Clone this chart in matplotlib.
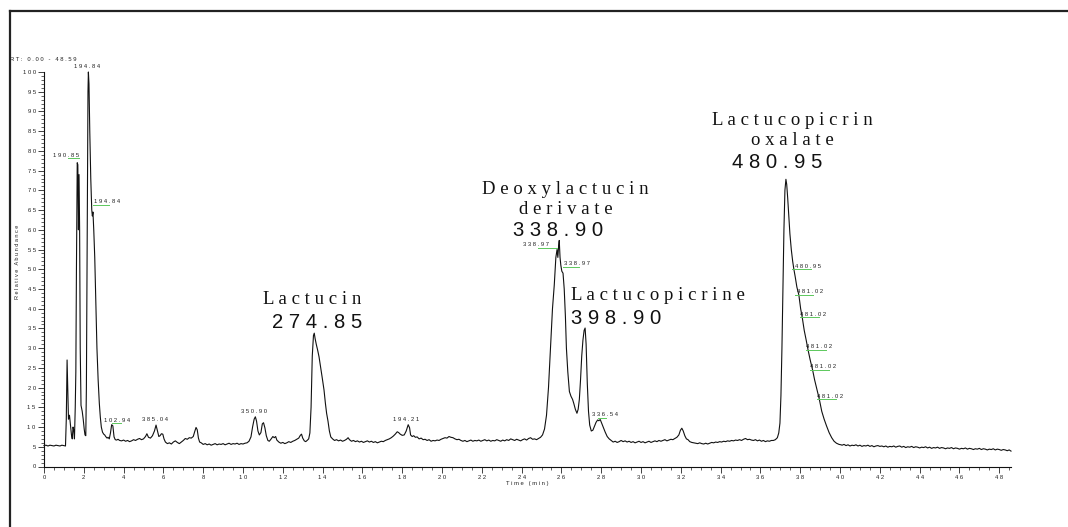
import matplotlib
matplotlib.use("Agg")
import matplotlib.pyplot as plt
from matplotlib.lines import Line2D
from matplotlib.ticker import MultipleLocator, FuncFormatter

# ---------------- data ----------------
time_min = [
    0.0, 0.1, 0.2, 0.3, 0.4, 0.5, 0.6, 0.7, 0.8, 0.9,
    1.0, 1.08, 1.12, 1.16, 1.2, 1.23, 1.28, 1.32, 1.38, 1.42,
    1.46, 1.5, 1.53, 1.57, 1.6, 1.63, 1.67, 1.70, 1.73, 1.76,
    1.79, 1.82, 1.86, 1.92, 1.97, 2.02, 2.06, 2.1, 2.13, 2.17,
    2.21, 2.23, 2.26, 2.3, 2.35, 2.4, 2.43, 2.46, 2.5, 2.55,
    2.6, 2.66, 2.72, 2.78, 2.83, 2.88, 2.94, 3.0, 3.05, 3.1,
    3.17, 3.22, 3.28, 3.34, 3.40, 3.46, 3.52, 3.58, 3.65, 3.72,
    3.8, 3.9, 4.0, 4.1, 4.2, 4.3, 4.4, 4.5, 4.6, 4.7,
    4.8, 4.9, 5.0, 5.1, 5.17, 5.25, 5.35, 5.45, 5.55, 5.63,
    5.7, 5.77, 5.83, 5.9, 5.97, 6.03, 6.1, 6.2, 6.3, 6.4,
    6.5, 6.6, 6.7, 6.8, 6.9, 7.0, 7.1, 7.2, 7.3, 7.4,
    7.5, 7.57, 7.64, 7.7, 7.76, 7.82, 7.9, 8.0, 8.1, 8.2,
    8.3, 8.4, 8.5, 8.6, 8.7, 8.8, 8.9, 9.0, 9.1, 9.2,
    9.3, 9.4, 9.5, 9.6, 9.7, 9.8, 9.9, 10.0, 10.1, 10.2,
    10.3, 10.4, 10.48, 10.56, 10.62, 10.68, 10.75, 10.82, 10.9, 10.97,
    11.03, 11.1, 11.17, 11.25, 11.32, 11.4, 11.5, 11.57, 11.64, 11.7,
    11.8, 11.9, 12.0, 12.1, 12.2, 12.3, 12.4, 12.5, 12.6, 12.7,
    12.8, 12.88, 12.94, 13.0, 13.08, 13.15, 13.22, 13.3, 13.36, 13.42,
    13.48, 13.54, 13.58, 13.62, 13.68, 13.75, 13.82, 13.9, 13.98, 14.07,
    14.14, 14.2, 14.27, 14.34, 14.41, 14.5, 14.6, 14.7, 14.8, 14.9,
    15.0, 15.1, 15.2, 15.28, 15.35, 15.45, 15.55, 15.65, 15.75, 15.85,
    15.95, 16.05, 16.15, 16.25, 16.35, 16.45, 16.55, 16.65, 16.75, 16.85,
    16.95, 17.05, 17.15, 17.25, 17.35, 17.45, 17.55, 17.65, 17.75, 17.82,
    17.9, 18.0, 18.1, 18.2, 18.3, 18.37, 18.42, 18.5, 18.58, 18.66,
    18.75, 18.85, 18.95, 19.05, 19.15, 19.25, 19.35, 19.45, 19.55, 19.65,
    19.75, 19.85, 19.95, 20.05, 20.15, 20.25, 20.35, 20.45, 20.55, 20.65,
    20.75, 20.85, 20.95, 21.05, 21.15, 21.25, 21.35, 21.45, 21.55, 21.65,
    21.75, 21.85, 21.95, 22.05, 22.15, 22.25, 22.35, 22.45, 22.55, 22.65,
    22.75, 22.85, 22.95, 23.05, 23.15, 23.25, 23.35, 23.45, 23.55, 23.65,
    23.75, 23.85, 23.95, 24.05, 24.15, 24.25, 24.35, 24.45, 24.55, 24.65,
    24.75, 24.85, 24.95, 25.05, 25.15, 25.25, 25.35, 25.45, 25.55, 25.64,
    25.72, 25.78, 25.82, 25.86, 25.89, 25.93, 25.97, 26.02, 26.08, 26.14,
    26.2, 26.25, 26.32, 26.4, 26.48, 26.56, 26.62, 26.7, 26.78, 26.84,
    26.9, 26.96, 27.02, 27.08, 27.14, 27.19, 27.24, 27.3, 27.36, 27.42,
    27.5, 27.58, 27.66, 27.74, 27.82, 27.88, 27.95, 28.02, 28.1, 28.2,
    28.3, 28.4, 28.5, 28.6, 28.7, 28.8, 28.9, 29.0, 29.1, 29.2,
    29.3, 29.4, 29.5, 29.6, 29.7, 29.8, 29.9, 30.0, 30.1, 30.2,
    30.3, 30.4, 30.5, 30.6, 30.7, 30.8, 30.9, 31.0, 31.1, 31.2,
    31.3, 31.4, 31.5, 31.6, 31.7, 31.8, 31.9, 31.98, 32.05, 32.12,
    32.2, 32.28, 32.36, 32.45, 32.55, 32.65, 32.75, 32.85, 32.95, 33.05,
    33.15, 33.25, 33.35, 33.45, 33.55, 33.65, 33.75, 33.85, 33.95, 34.05,
    34.15, 34.25, 34.35, 34.45, 34.55, 34.65, 34.75, 34.85, 34.95, 35.05,
    35.15, 35.25, 35.35, 35.45, 35.55, 35.65, 35.75, 35.85, 35.95, 36.05,
    36.15, 36.25, 36.35, 36.45, 36.55, 36.65, 36.75, 36.85, 36.92, 36.98,
    37.03, 37.08, 37.13, 37.18, 37.23, 37.28, 37.32, 37.37, 37.42, 37.48,
    37.55, 37.62, 37.68, 37.75, 37.83, 37.93, 38.02, 38.1, 38.2, 38.3,
    38.39, 38.5, 38.62, 38.72, 38.84, 38.96, 39.08, 39.2, 39.32, 39.45,
    39.58, 39.7, 39.82, 39.95, 40.05, 40.1, 40.2, 40.3, 40.4, 40.5,
    40.6, 40.7, 40.8, 40.9, 41.0, 41.1, 41.2, 41.3, 41.4, 41.5,
    41.6, 41.7, 41.8, 41.9, 42.0, 42.1, 42.2, 42.3, 42.4, 42.5,
    42.6, 42.7, 42.8, 42.9, 43.0, 43.1, 43.2, 43.3, 43.4, 43.5,
    43.6, 43.7, 43.8, 43.9, 44.0, 44.1, 44.2, 44.3, 44.4, 44.5,
    44.6, 44.7, 44.8, 44.9, 45.0, 45.1, 45.2, 45.3, 45.4, 45.5,
    45.6, 45.7, 45.8, 45.9, 46.0, 46.1, 46.2, 46.3, 46.4, 46.5,
    46.6, 46.7, 46.8, 46.9, 47.0, 47.1, 47.2, 47.3, 47.4, 47.5,
    47.6, 47.7, 47.8, 47.9, 48.0, 48.1, 48.2, 48.3, 48.4, 48.5,
    48.59,
]

rel_abundance = [
    5.3, 5.4, 5.2, 5.4, 5.3, 5.2, 5.4, 5.3, 5.2, 5.4,
    5.3, 5.2, 12, 27, 18, 12, 13, 11, 8, 7,
    10, 9, 7, 15, 24, 50, 77, 76.5, 60, 74,
    60, 30, 15.5, 14, 12, 9.5, 8, 7.8, 20, 60,
    95, 100, 97, 85, 73, 65, 63.5, 64.5, 60, 53,
    42, 30, 22, 16, 12.5, 10, 8.7, 8.2, 8.0, 7.6,
    7.2, 7.4, 7.0, 8.5, 10.6, 10.3, 7.5, 6.8, 6.7, 6.9,
    6.6, 6.5, 6.7, 6.4, 6.6, 6.3, 6.5, 6.8, 6.6, 6.9,
    7.1, 6.8, 7.0, 7.6, 8.3, 7.4, 7.2, 7.8, 9.0, 10.5,
    9.0, 7.6, 7.8, 8.3, 8.2, 7.0, 6.2, 5.8, 6.0, 5.7,
    6.2, 6.5, 6.1, 5.8, 6.2, 6.6, 7.1, 6.9, 7.3, 7.2,
    7.6, 8.8, 9.9, 9.3, 7.2, 6.2, 6.0, 5.6, 5.8, 5.5,
    5.7, 5.4, 5.6, 5.8, 5.5, 5.7, 5.6, 5.8, 5.5, 5.7,
    5.9, 5.6, 5.8, 5.7, 5.9, 5.6, 5.8, 5.7, 5.9, 6.0,
    6.4, 7.5, 10, 12.0, 12.6, 11.5, 9.0, 8.0, 8.6, 10.8,
    11.1, 9.8, 7.8, 6.6, 6.4, 6.9, 7.6, 7.3, 7.6, 6.7,
    6.2, 5.9, 6.1, 5.8, 6.0, 6.3, 6.1, 6.4, 6.6, 6.9,
    7.2, 7.9, 8.2, 7.2, 6.5, 6.3, 6.6, 7.0, 8.5, 15,
    28, 33.2, 33.8, 32.5, 31, 29.5, 27.8, 25.2, 22.5, 19.4,
    16, 13.5, 11.5, 9.0, 7.5, 7.0, 6.6, 6.8, 6.5, 6.7,
    6.4, 6.6, 6.9, 7.3, 6.8, 6.4, 6.6, 6.3, 6.5, 6.2,
    6.4, 6.1, 6.3, 6.5, 6.2, 6.4, 6.1, 6.3, 6.0, 6.2,
    6.4, 6.3, 6.6, 6.8, 7.0, 7.3, 7.7, 8.2, 8.8, 8.6,
    8.2, 7.9, 8.0, 9.0, 10.6, 9.8, 8.0, 7.6, 7.8, 7.4,
    7.5, 7.0, 7.2, 6.8, 6.9, 6.6, 6.8, 6.4, 6.6, 6.5,
    6.7, 6.6, 6.9, 7.1, 7.3, 7.2, 7.6, 7.4, 7.3, 7.0,
    6.8, 6.9, 6.6, 6.4, 6.6, 6.3, 6.5, 6.7, 6.4, 6.6,
    6.5, 6.7, 6.4, 6.6, 6.8, 6.5, 6.7, 6.4, 6.6, 6.5,
    6.8, 6.6, 6.4, 6.7, 6.5, 6.8, 6.6, 7.0, 6.8, 6.6,
    6.9, 6.7, 6.5, 6.8, 7.0, 6.7, 7.1, 7.3, 6.9, 7.0,
    6.8, 7.1, 7.4, 8.0, 9.5, 13, 20, 30, 40, 46,
    53, 55, 53, 56, 57.3, 53, 51, 49.5, 49, 45,
    38, 30, 24, 19, 17.8, 17, 16, 14.5, 13.5, 14.5,
    17, 22, 28, 32, 34.5, 35.1, 31, 21, 14, 10.5,
    9.0, 9.2, 10.2, 11.2, 11.8, 11.6, 11.9, 11.0, 10.0, 8.7,
    7.6, 7.0, 6.6, 6.2, 6.4, 6.1, 6.3, 6.6, 6.3, 6.5,
    6.2, 6.4, 6.1, 6.3, 6.0, 6.2, 6.4, 6.1, 6.3, 6.0,
    6.2, 6.4, 6.1, 6.3, 6.5, 6.3, 6.6, 6.4, 6.6, 6.8,
    6.5, 6.7, 6.9, 6.8, 7.1, 7.4, 8.0, 9.2, 9.7, 9.0,
    7.8, 7.0, 6.8, 6.3, 6.1, 6.0, 5.9, 5.8, 6.0, 5.8,
    5.7, 5.9, 5.7, 5.9, 6.1, 6.0, 6.2, 6.1, 6.3, 6.2,
    6.4, 6.3, 6.5, 6.4, 6.6, 6.5, 6.7, 6.6, 6.8, 6.6,
    6.9, 7.1, 6.8, 6.9, 6.7, 6.6, 6.8, 6.5, 6.7, 6.4,
    6.6, 6.3, 6.5, 6.4, 6.6, 6.6, 6.8, 7.3, 8.5, 11,
    18, 30, 45, 60, 70, 72.8, 71.5, 68, 64, 59,
    55, 52, 50, 48, 45.5, 43.5, 40, 37.8, 34.5, 32,
    29.6, 27, 24.5, 22, 19.5, 17, 14, 12, 10.3, 8.6,
    7.3, 6.4, 5.9, 5.6, 5.5, 5.4, 5.6, 5.3, 5.5, 5.2,
    5.4, 5.3, 5.5, 5.2, 5.4, 5.1, 5.3, 5.2, 5.4, 5.1,
    5.3, 5.0, 5.2, 5.3, 5.1, 5.2, 5.0, 5.2, 4.9, 5.1,
    5.0, 5.2, 4.9, 5.1, 5.2, 4.9, 5.1, 4.8, 5.0, 4.9,
    5.1, 4.8, 5.0, 4.9, 4.7, 4.9, 4.8, 5.0, 4.7, 4.9,
    4.6, 4.8, 4.7, 4.9, 4.6, 4.8, 4.7, 4.5, 4.7, 4.6,
    4.8, 4.5, 4.7, 4.6, 4.4, 4.6, 4.5, 4.7, 4.4, 4.6,
    4.5, 4.3, 4.5, 4.4, 4.6, 4.3, 4.5, 4.4, 4.2, 4.4,
    4.3, 4.5, 4.2, 4.4, 4.3, 4.1, 4.3, 4.2, 4.0, 4.2,
    3.9,
]

# m/z labels of the instrument software
peak_mz = ["194.84", "190.85", "194.84", "102.94", "385.04", "350.90",
           "194.21", "338.97", "338.97", "336.54", "480.95", "481.02",
           "481.02", "481.02", "481.02", "481.02"]
peak_label_t = [2.14, 0.45, 2.51, 3.02, 5.58, 10.55, 18.18, 24.06, 26.13,
                27.52, 37.74, 37.84, 37.99, 38.29, 38.49, 38.84]
peak_label_v = [100.6, 78.1, 66.4, 11.0, 11.2, 13.2, 11.2, 55.5, 50.6,
                12.4, 50.0, 43.5, 37.8, 29.6, 24.5, 17.0]
peak_label_ha = ["center", "left", "left", "left", "center", "center",
                 "center", "left", "left", "left", "left", "left", "left",
                 "left", "left", "left"]
underline_t0 = [None, 1.19, 2.46, 3.42, None, None, None, 24.82, 26.07,
                27.84, 37.59, 37.74, 37.99, 38.29, 38.49, 38.84]
underline_t1 = [None, 1.76, 3.27, 3.87, None, None, None, 25.76, 26.88,
                28.24, 38.54, 38.64, 38.94, 39.30, 39.45, 39.80]

# compound annotations
compound_names = ["Lactucin", "Deoxylactucin", "derivate", "Lactucopicrine",
                  "Lactucopicrin", "oxalate"]
compound_t = [10.99, 22.0, 23.88, 26.48, 33.57, 35.51]
compound_v = [41.3, 69.2, 64.1, 42.2, 86.6, 81.5]
compound_mz = ["274.85", "338.90", "398.90", "480.95"]
compound_mz_t = [11.46, 23.57, 26.48, 34.57]
compound_mz_v = [35.0, 58.4, 36.1, 75.6]

x_ticks = list(range(0, 49, 2))
y_ticks = list(range(0, 101, 5))
rt_range = "RT: 0.00 - 48.59"
x_label = "Time (min)"
y_label = "Relative Abundance"


def spaced(s):
    return " ".join(s)


# ---------------- figure ----------------
W, H = 1068, 527
fig = plt.figure(figsize=(W / 100, H / 100), dpi=100)
fig.patch.set_facecolor("white")

ax = fig.add_axes([44 / W, 60.5 / H, 967 / W, 394.5 / H])
ax.plot(time_min, rel_abundance, color="#111111", lw=0.8, clip_on=False)
ax.set_xlim(0, 48.59)
ax.set_ylim(0, 100)

for s in ["top", "right"]:
    ax.spines[s].set_visible(False)
for s in ["left", "bottom"]:
    ax.spines[s].set_linewidth(0.8)
    ax.spines[s].set_color("#111111")

ax.xaxis.set_major_locator(MultipleLocator(2))
ax.xaxis.set_minor_locator(MultipleLocator(0.5))
ax.yaxis.set_major_locator(MultipleLocator(5))
ax.yaxis.set_minor_locator(MultipleLocator(1))
fmt = FuncFormatter(lambda v, p: spaced(str(int(round(v)))))
ax.xaxis.set_major_formatter(fmt)
ax.yaxis.set_major_formatter(fmt)
ax.tick_params(axis="both", which="major", length=4, width=0.6,
               labelsize=4.2, colors="#222222", pad=2)
ax.tick_params(axis="both", which="minor", length=2.5, width=0.5,
               colors="#222222")
for lab in ax.get_xticklabels() + ax.get_yticklabels():
    lab.set_family("Liberation Sans")

# small m/z labels with green leader lines
for txt, t, v, ha, t0, t1 in zip(peak_mz, peak_label_t, peak_label_v,
                                 peak_label_ha, underline_t0, underline_t1):
    ax.text(t, v + 0.4, spaced(txt), ha=ha, va="baseline", fontsize=4.2,
            family="Liberation Sans", color="#222222", clip_on=False)
    if t0 is not None:
        ax.plot([t0, t1], [v, v], color="#5cc85c", lw=0.7, clip_on=False)

# compound names (serif, letter-spaced)
for name, t, v in zip(compound_names, compound_t, compound_v):
    ax.text(t, v, spaced(name), ha="left", va="baseline", fontsize=13.5,
            family="Liberation Serif", color="#111111", clip_on=False)

for mz, t, v in zip(compound_mz, compound_mz_t, compound_mz_v):
    ax.text(t, v, spaced(mz), ha="left", va="baseline", fontsize=14.6,
            family="Liberation Sans", color="#111111", clip_on=False)

# axis captions
fig.text(10 / W, 1 - 59.5 / H, spaced(rt_range), ha="left", va="center",
         fontsize=4.2, family="Liberation Sans", color="#222222")
fig.text(527 / W, 1 - 483 / H, spaced(x_label), ha="center", va="center",
         fontsize=4.2, family="Liberation Sans", color="#222222")
fig.text(18 / W, 1 - 262 / H, spaced(y_label), ha="center", va="center",
         rotation=90, fontsize=4.0, family="Liberation Sans",
         color="#222222")

# outer frame (top and left edges)
fig.add_artist(Line2D([10 / W, 1.0], [1 - 11 / H, 1 - 11 / H],
                      transform=fig.transFigure, color="#222222", lw=1.6))
fig.add_artist(Line2D([10 / W, 10 / W], [0.0, 1 - 11 / H],
                      transform=fig.transFigure, color="#222222", lw=1.6))

fig.savefig("out.png", dpi=100, facecolor="white")
